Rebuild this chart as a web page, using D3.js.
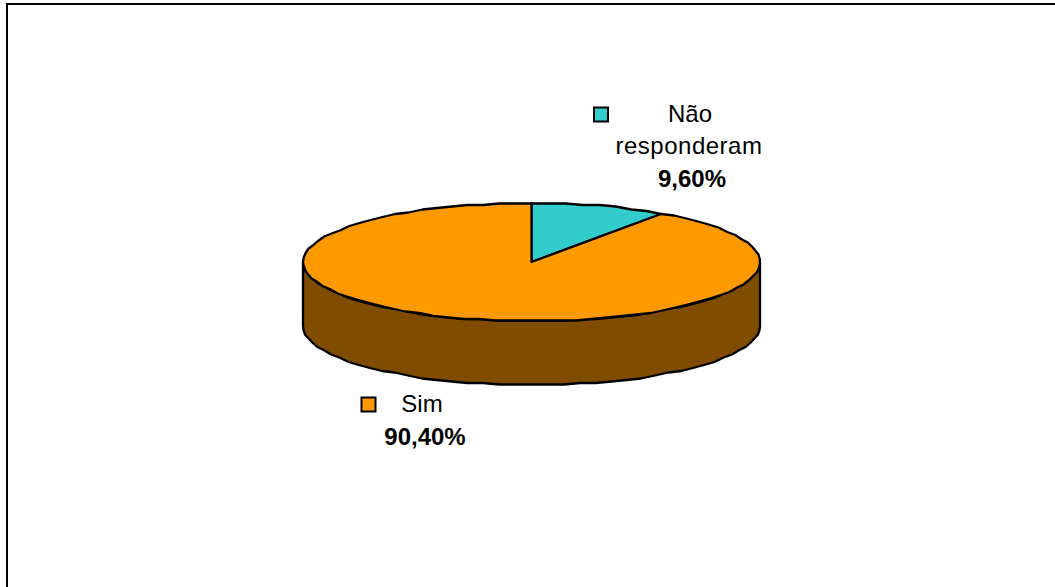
<!DOCTYPE html>
<html>
<head>
<meta charset="utf-8">
<script src="https://cdnjs.cloudflare.com/ajax/libs/d3/7.8.5/d3.min.js"></script>
<style>
html, body { margin: 0; padding: 0; background: #fff; overflow: hidden; }
svg { display: block; }
text { font-family: "Liberation Sans", Arial, sans-serif; font-size: 24px; fill: #000; }
</style>
</head>
<body>
<svg id="svg"></svg>
<script>
const width = 1055;
const height = 587;

// data
const categories = ["Não responderam", "Sim"];
const values = [9.6, 90.4];
const valueLabels = ["9,60%", "90,40%"];
const colors = ["#33CCCC", "#FF9900"];
const sideColor = "#7F4C00";

const cx = 531.5;
const cy = 262;
const rx = 228.5;
const ry = 59;
const depth = 64;
const stepAngle = Math.PI / 44;
const snap = 1.5;	// the original metafile has coarse coordinates, so the outline wobbles a bit

const svg = d3.select("#svg")
	.attr("width", width)
	.attr("height", height);

svg.append("rect")
	.attr("width", width)
	.attr("height", height)
	.attr("fill", "white");

// outer frame, runs off the right and bottom edge
svg.append("path")
	.attr("d", `M7,${height + 5}V4H${width + 5}`)
	.attr("fill", "none")
	.attr("stroke", "#000")
	.attr("stroke-width", 2);

const pie = d3.pie().sort(null).value(d => d);
const slices = pie(values);

const px = a => cx + rx * Math.sin(a);
const py = a => cy - Math.round(ry * Math.cos(a) / snap) * snap;
const outline = d3.line().x(d => d[0]).y(d => d[1]);

const anglesBetween = function(a0, a1) {
	const n = Math.max(1, Math.round((a1 - a0) / stepAngle));
	return d3.range(n + 1).map(i => a0 + (a1 - a0) * i / n);
};

// the rim, front half of the ellipse
const rimAngles = anglesBetween(Math.PI / 2, Math.PI * 1.5);
const rimTop = rimAngles.map(a => [px(a), py(a)]);
const rimBottom = rimAngles.map(a => [px(a), py(a) + depth]).reverse();

svg.append("path")
	.attr("d", outline(rimTop.concat(rimBottom)) + "Z")
	.attr("fill", sideColor)
	.attr("stroke", "#000")
	.attr("stroke-width", 2.3)
	.attr("stroke-linejoin", "round");

// top face
svg.append("g")
	.selectAll("path")
	.data(slices)
	.enter().append("path")
	.attr("d", function(d) {
		const pts = anglesBetween(d.startAngle, d.endAngle).map(a => [px(a), py(a)]);
		return outline([[cx, cy]].concat(pts)) + "Z";
	})
	.attr("fill", (d, i) => colors[i])
	.attr("stroke", "#000")
	.attr("stroke-width", 2.3)
	.attr("stroke-linejoin", "round");

// labels
const legendKey = function(x, y, color) {
	svg.append("rect")
		.attr("x", x)
		.attr("y", y)
		.attr("width", 14)
		.attr("height", 14)
		.attr("fill", color)
		.attr("stroke", "#000")
		.attr("stroke-width", 2);
};

const label = function(x, y, str, bold, spacing) {
	svg.append("text")
		.attr("x", x)
		.attr("y", y)
		.attr("text-anchor", "middle")
		.style("font-weight", bold ? "bold" : "normal")
		.style("letter-spacing", spacing || null)
		.text(str);
};

const naoWords = categories[0].split(" ");

legendKey(594, 107.5, colors[0]);
label(690, 122, naoWords[0], false);
label(689, 154, naoWords[1], false, "0.5px");
label(692, 187, valueLabels[0], true);

legendKey(361.5, 397.5, colors[1]);
label(422, 412, categories[1], false);
label(425, 445, valueLabels[1], true);
</script>
</body>
</html>
